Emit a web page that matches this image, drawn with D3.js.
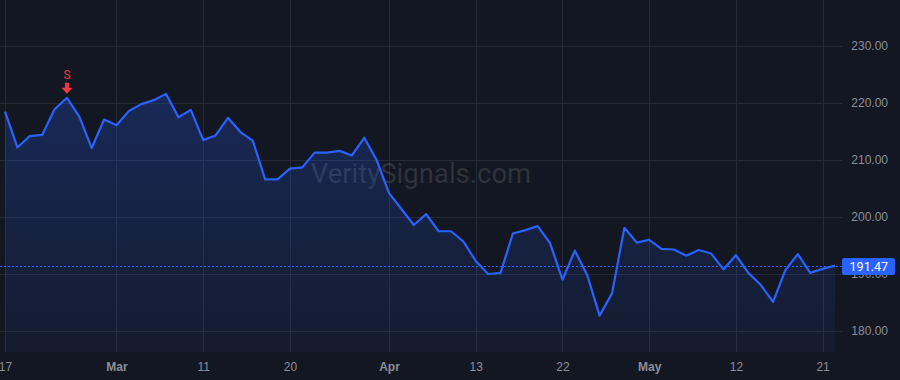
<!DOCTYPE html>
<html>
<head>
<meta charset="utf-8">
<script src="https://cdn.jsdelivr.net/npm/d3@7"></script>
<style>
  html, body { margin: 0; padding: 0; background: #131722; }
  svg { display: block; font-family: -apple-system, "Trebuchet MS", Roboto, "Liberation Sans", sans-serif; }
</style>
</head>
<body>
<div class="chart"></div>
<script>
var svgWidth = 900;
var svgHeight = 380;

// daily closes, one per bar
var prices = [
  218.5, 212.2, 214.2, 214.4, 218.9, 220.9, 217.6, 212.1, 217.1, 216.1,
  218.6, 219.8, 220.5, 221.6, 217.5, 218.8, 213.5, 214.3, 217.4, 214.9,
  213.4, 206.6, 206.6, 208.5, 208.7, 211.3, 211.3, 211.6, 210.8, 213.9,
  210.0, 204.2, 201.4, 198.6, 200.5, 197.5, 197.5, 195.7, 192.3, 190.0,
  190.2, 197.1, 197.7, 198.4, 195.4, 189.0, 194.1, 189.8, 182.7, 186.6,
  198.1, 195.5, 196.0, 194.4, 194.3, 193.2, 194.2, 193.6, 190.8, 193.3,
  190.2, 188.1, 185.1, 190.7, 193.5, 190.2, 190.9, 191.47
];

// time axis labels (bar index -> text)
var tickIndex = [0, 9, 16, 23, 31, 38, 45, 52, 59, 66];
var tickLabels = ["17", "Mar", "11", "20", "Apr", "13", "22", "May", "12", "21"];
var monthLabels = ["Mar", "Apr", "May"];

var priceTicks = [180, 190, 200, 210, 220, 230];
var lastPrice = 191.47;

// signal markers
var signalIndex = [5];
var signalText = ["S"];

var paneRight = 842;
var paneBottom = 352;

var svg = d3.select(".chart")
  .append("svg")
  .attr("width", svgWidth)
  .attr("height", svgHeight);

svg.append("rect")
  .attr("width", svgWidth)
  .attr("height", svgHeight)
  .attr("fill", "#131722");

var xScale = d3.scaleLinear()
  .domain([0, prices.length - 1])
  .range([5, 835]);

var yScale = d3.scaleLinear()
  .domain([180, 230])
  .range([331, 46]);

var defs = svg.append("defs");
var grad = defs.append("linearGradient")
  .attr("id", "areaFill")
  .attr("x1", 0).attr("y1", 0).attr("x2", 0).attr("y2", 1);
grad.append("stop").attr("offset", "0%").attr("stop-color", "#2962ff").attr("stop-opacity", 0.24);
grad.append("stop").attr("offset", "100%").attr("stop-color", "#2962ff").attr("stop-opacity", 0.06);

defs.append("clipPath").attr("id", "pane")
  .append("rect").attr("width", paneRight).attr("height", paneBottom);

// grid
var grid = svg.append("g").attr("clip-path", "url(#pane)");
grid.selectAll(".hgrid")
  .data(priceTicks)
  .enter().append("line")
  .attr("x1", 0).attr("x2", paneRight)
  .attr("y1", function(d) { return Math.round(yScale(d)) + 0.5; })
  .attr("y2", function(d) { return Math.round(yScale(d)) + 0.5; })
  .attr("stroke", "#252a37");
grid.selectAll(".vgrid")
  .data(tickIndex)
  .enter().append("line")
  .attr("y1", 0).attr("y2", paneBottom)
  .attr("x1", function(d) { return Math.round(xScale(d)) + 0.5; })
  .attr("x2", function(d) { return Math.round(xScale(d)) + 0.5; })
  .attr("stroke", "#252a37");

// watermark
svg.append("text")
  .attr("x", 421)
  .attr("y", 183)
  .attr("text-anchor", "middle")
  .style("font-size", "27.5px")
  .style("fill", "rgba(255,255,255,0.12)")
  .text("VeritySignals.com");

var area = d3.area()
  .x(function(d, i) { return xScale(i); })
  .y0(paneBottom)
  .y1(function(d) { return yScale(d); });

var line = d3.line()
  .x(function(d, i) { return xScale(i); })
  .y(function(d) { return yScale(d); });

var plot = svg.append("g").attr("clip-path", "url(#pane)");

plot.append("path")
  .datum(prices)
  .attr("d", area)
  .attr("fill", "url(#areaFill)");

plot.append("path")
  .datum(prices)
  .attr("d", line)
  .attr("fill", "none")
  .attr("stroke", "#2962ff")
  .attr("stroke-width", 2.2)
  .attr("stroke-linejoin", "round");

// last price dotted line
var ly = yScale(lastPrice);
svg.append("line")
  .attr("x1", 0).attr("x2", paneRight)
  .attr("y1", Math.round(ly) + 0.5).attr("y2", Math.round(ly) + 0.5)
  .attr("stroke", "#2962ff")
  .attr("stroke-width", 1)
  .attr("stroke-dasharray", "2,2");

// right price axis
var rightAxis = d3.axisRight(yScale)
  .tickValues(priceTicks)
  .tickSize(0)
  .tickFormat(d3.format(".2f"));

var yAxisG = svg.append("g")
  .attr("transform", "translate(" + paneRight + ",0)")
  .call(rightAxis);
yAxisG.select(".domain").remove();
yAxisG.selectAll("text")
  .attr("x", 46)
  .attr("text-anchor", "end")
  .style("font-size", "12px")
  .style("fill", "#8b8e98");

// price label
svg.append("rect")
  .attr("x", paneRight)
  .attr("y", Math.round(ly) - 8)
  .attr("width", 53)
  .attr("height", 17)
  .attr("rx", 2)
  .attr("fill", "#2962ff");
svg.append("text")
  .attr("x", 888)
  .attr("y", Math.round(ly) + 0.5)
  .attr("dy", "0.36em")
  .attr("text-anchor", "end")
  .style("font-size", "12.5px")
  .style("fill", "#ffffff")
  .text(d3.format(".2f")(lastPrice));

// time axis
var bottomAxis = d3.axisBottom(xScale)
  .tickValues(tickIndex)
  .tickSize(0)
  .tickFormat(function(d, i) { return tickLabels[i]; });

var xAxisG = svg.append("g")
  .attr("transform", "translate(0," + paneBottom + ")")
  .call(bottomAxis);
xAxisG.select(".domain").remove();
xAxisG.selectAll("text")
  .attr("y", 10)
  .style("font-size", "12px")
  .style("fill", "#8b8e98")
  .style("font-weight", function(d, i) {
    return monthLabels.indexOf(tickLabels[i]) >= 0 ? "bold" : "normal";
  });

// signal markers
signalIndex.forEach(function(idx, k) {
  var sx = xScale(idx);
  var sy = yScale(prices[idx]);
  svg.append("path")
    .attr("d", "M" + (sx - 2) + "," + (sy - 15) +
      " h4 v5 h3.5 l-5.5,6 l-5.5,-6 h3.5 z")
    .attr("fill", "#f23645");
  svg.append("text")
    .attr("x", sx)
    .attr("y", sy - 19)
    .attr("text-anchor", "middle")
    .style("font-size", "12px")
    .style("fill", "#f23645")
    .text(signalText[k]);
});
</script>
</body>
</html>
